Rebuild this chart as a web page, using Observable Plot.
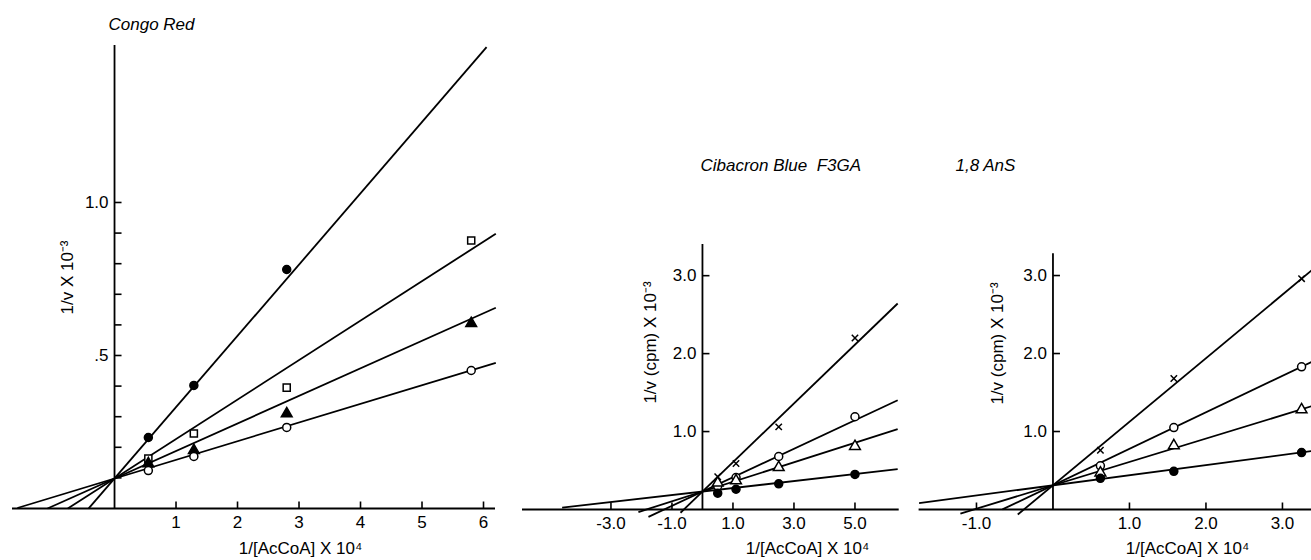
<!DOCTYPE html>
<html><head><meta charset="utf-8">
<script src="https://cdn.jsdelivr.net/npm/d3@7"></script>
<script src="https://cdn.jsdelivr.net/npm/@observablehq/plot@0.6"></script>
<style>
html,body{margin:0;padding:0;background:#fff;overflow:hidden;}
#wrap{position:relative;width:1311px;height:560px;overflow:hidden;background:#fff;}
.panel{position:absolute;top:0;}
</style></head><body><div id="wrap"></div>
<script>
// ---------- Congo Red ----------
const crX = [0.55, 1.29, 2.80, 5.80];
const crFilledCircle = [0.232, 0.402, 0.781, null];
const crSquare = [0.163, 0.245, 0.395, 0.876];
const crFilledTriangle = [0.147, 0.190, 0.310, 0.605];
const crOpenCircle = [0.124, 0.170, 0.265, 0.451];
const crIntercept = [0.098, 0.098, 0.098, 0.098];
const crSlope = [0.233, 0.129, 0.090, 0.061];
const crLineStart = [-0.42, -0.76, -1.09, -1.58];
const crLineEnd = [6.05, 6.2, 6.2, 6.2];
const crYTicks = [0.1, 0.2, 0.3, 0.4, 0.5, 0.6, 0.7, 0.8, 0.9, 1.0];
const crYLabelValues = [0.5, 1.0];
const crYLabels = [".5", "1.0"];
const crXTicks = [1, 2, 3, 4, 5, 6];
const crXLabels = ["1", "2", "3", "4", "5", "6"];

// ---------- Cibacron Blue F3GA ----------
const cbX = [0.5, 1.1, 2.5, 5.0];
const cbCross = [0.42, 0.59, 1.06, 2.20];
const cbOpenCircle = [0.30, 0.41, 0.68, 1.19];
const cbOpenTriangle = [0.34, 0.37, 0.54, 0.81];
const cbFilledCircle = [0.21, 0.26, 0.33, 0.45];
const cbIntercept = [0.23, 0.23, 0.23, 0.23];
const cbSlope = [0.377, 0.183, 0.125, 0.045];
const cbLineStart = [-0.72, -1.77, -2.10, -4.60];
const cbLineEnd = [6.4, 6.4, 6.4, 6.4];
const cbYTicks = [1.0, 2.0, 3.0];
const cbYLabels = ["1.0", "2.0", "3.0"];
const cbXTicks = [-3, -1, 1, 3, 5];
const cbXLabels = ["-3.0", "-1.0", "1.0", "3.0", "5.0"];

// ---------- 1,8 AnS ----------
const anX = [0.62, 1.58, 3.25];
const anCross = [0.76, 1.68, 2.96];
const anOpenCircle = [0.56, 1.05, 1.83];
const anOpenTriangle = [0.47, 0.82, 1.28];
const anFilledCircle = [0.40, 0.49, 0.73];
const anIntercept = [0.31, 0.31, 0.31, 0.31];
const anSlope = [0.815, 0.468, 0.30, 0.13];
const anLineStart = [-0.46, -0.66, -1.21, -1.75];
const anLineEnd = [3.6, 3.6, 3.6, 3.6];
const anYTicks = [1.0, 2.0, 3.0];
const anYLabels = ["1.0", "2.0", "3.0"];
const anXTicks = [-1, 1, 2, 3];
const anXLabels = ["-1.0", "1.0", "2.0", "3.0"];

const FONT = "'Liberation Sans', Arial, Helvetica, sans-serif";
const tickRight = {draw(ctx) { ctx.moveTo(0, 0); ctx.lineTo(7, 0); }};
const tickUp = {draw(ctx) { ctx.moveTo(0, 0); ctx.lineTo(0, -7); }};

function pts(xs, ys) {
  return xs.map((x, i) => ({x, y: ys[i]})).filter(d => d.y != null);
}
function lines(a, b, s, e) {
  return a.map((a0, i) => ({x1: s[i], y1: a0 + b[i] * s[i], x2: e[i], y2: a0 + b[i] * e[i]}));
}

function panel(cfg) {
  const marks = [
    Plot.ruleY([0], {x1: cfg.xDomain[0], x2: cfg.xDomain[1], stroke: "black", strokeWidth: 1.8}),
    Plot.ruleX([0], {y1: 0, y2: cfg.yDomain[1], stroke: "black", strokeWidth: 1.8}),
    Plot.dot(cfg.yTicks, {x: 0, y: d => d, symbol: tickRight, stroke: "black", strokeWidth: 1.6}),
    Plot.dot(cfg.xTicks, {x: d => d, y: 0, symbol: tickUp, stroke: "black", strokeWidth: 1.6}),
    Plot.text(cfg.yLabelValues, {x: 0, y: d => d, text: (d, i) => cfg.yLabels[i], textAnchor: "end", dx: -6, fontSize: 17, fill: "black"}),
    Plot.text(cfg.xTicks, {x: d => d, y: 0, text: (d, i) => cfg.xLabels[i], dy: 14, fontSize: 17, fill: "black"}),
    Plot.link(cfg.lines, {x1: "x1", y1: "y1", x2: "x2", y2: "y2", stroke: "black", strokeWidth: 1.8}),
    Plot.text([cfg.title], {frameAnchor: "top-left", dx: cfg.titlePos[0], dy: cfg.titlePos[1], textAnchor: "start", lineAnchor: "middle", fontStyle: "italic", fontSize: 17, fill: "black"}),
    Plot.text([cfg.yTitle], {frameAnchor: "top-left", dx: cfg.yTitlePos[0], dy: cfg.yTitlePos[1], rotate: -90, textAnchor: "middle", lineAnchor: "middle", fontSize: 17, fill: "black"}),
    Plot.text(["1/[AcCoA] X 10⁴"], {frameAnchor: "bottom-left", dx: cfg.xTitlePos[0], dy: cfg.xTitlePos[1], textAnchor: "middle", lineAnchor: "middle", fontSize: 17, fill: "black"})
  ];
  for (const s of cfg.series) {
    const opts = {x: "x", y: "y", symbol: s.symbol, r: s.r, strokeWidth: 1.5};
    if (s.filled) { opts.fill = "black"; opts.stroke = "black"; }
    else if (s.symbol === "times") { opts.stroke = "black"; opts.fill = "none"; }
    else { opts.fill = "white"; opts.stroke = "black"; }
    marks.push(Plot.dot(s.data, opts));
  }
  const svg = Plot.plot({
    width: cfg.width, height: 560,
    marginLeft: cfg.margins[0], marginRight: cfg.margins[1], marginTop: cfg.margins[2], marginBottom: cfg.margins[3],
    x: {domain: cfg.xDomain, axis: null},
    y: {domain: cfg.yDomain, axis: null},
    style: {fontFamily: FONT, color: "black", background: "transparent", overflow: "visible"},
    marks
  });
  svg.style.maxWidth = "none";
  const div = document.createElement("div");
  div.className = "panel";
  div.style.left = cfg.left + "px";
  div.style.width = cfg.width + "px";
  div.appendChild(svg);
  document.getElementById("wrap").appendChild(div);
}

panel({
  left: 0, width: 500, margins: [12, 5, 45, 52],
  xDomain: [-1.659, 6.195], yDomain: [0, 1.513],
  yTicks: crYTicks, yLabelValues: crYLabelValues, yLabels: crYLabels,
  xTicks: crXTicks, xLabels: crXLabels,
  lines: lines(crIntercept, crSlope, crLineStart, crLineEnd),
  title: "Congo Red", titlePos: [96, -21],
  yTitle: "1/v X 10⁻³", yTitlePos: [55, 232],
  xTitlePos: [288, 40],
  series: [
    {data: pts(crX, crFilledCircle), symbol: "circle", r: 4, filled: true},
    {data: pts(crX, crSquare), symbol: "square", r: 4, filled: false},
    {data: pts(crX, crFilledTriangle), symbol: "triangle", r: 4, filled: true},
    {data: pts(crX, crOpenCircle), symbol: "circle", r: 4, filled: false}
  ]
});

panel({
  left: 500, width: 400, margins: [22, 1.3, 244, 51],
  xDomain: [-5.9, 6.45], yDomain: [0, 3.4],
  yTicks: cbYTicks, yLabelValues: cbYTicks, yLabels: cbYLabels,
  xTicks: cbXTicks, xLabels: cbXLabels,
  lines: lines(cbIntercept, cbSlope, cbLineStart, cbLineEnd),
  title: "Cibacron Blue  F3GA", titlePos: [178, -79],
  yTitle: "1/v (cpm) X 10⁻³", yTitlePos: [128, 98],
  xTitlePos: [285, 39],
  series: [
    {data: pts(cbX, cbCross), symbol: "times", r: 3, filled: false},
    {data: pts(cbX, cbOpenCircle), symbol: "circle", r: 4, filled: false},
    {data: pts(cbX, cbOpenTriangle), symbol: "triangle", r: 4, filled: false},
    {data: pts(cbX, cbFilledCircle), symbol: "circle", r: 4, filled: true}
  ]
});

panel({
  left: 900, width: 440, margins: [18.6, 4.5, 253.2, 51],
  xDomain: [-1.75, 3.7], yDomain: [0, 3.28],
  yTicks: anYTicks, yLabelValues: anYTicks, yLabels: anYLabels,
  xTicks: anXTicks, xLabels: anXLabels,
  lines: lines(anIntercept, anSlope, anLineStart, anLineEnd),
  title: "1,8 AnS", titlePos: [36.4, -88],
  yTitle: "1/v (cpm) X 10⁻³", yTitlePos: [78.4, 89.8],
  xTitlePos: [268.4, 39],
  series: [
    {data: pts(anX, anCross), symbol: "times", r: 3, filled: false},
    {data: pts(anX, anOpenCircle), symbol: "circle", r: 4, filled: false},
    {data: pts(anX, anOpenTriangle), symbol: "triangle", r: 4, filled: false},
    {data: pts(anX, anFilledCircle), symbol: "circle", r: 4, filled: true}
  ]
});
</script></body></html>
